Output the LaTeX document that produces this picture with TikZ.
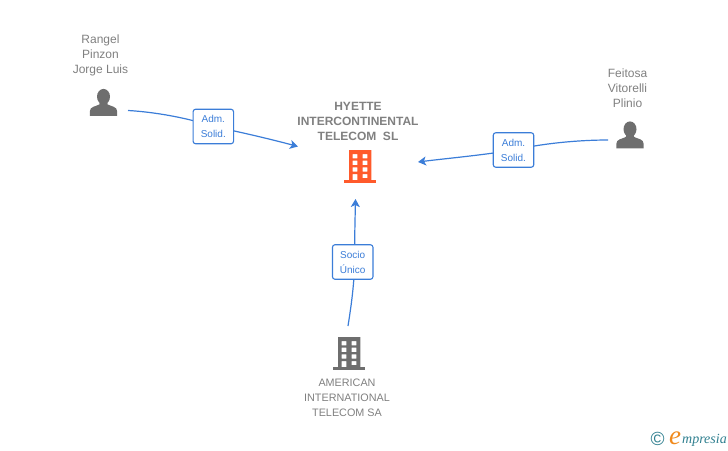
\documentclass[tikz,border=0pt]{standalone}
\usepackage{fontspec}
\setmainfont{Liberation Sans}
\newfontfamily\logofont{Liberation Serif}
\usetikzlibrary{arrows.meta,backgrounds}
\definecolor{linkblue}{HTML}{3B7DD8}
\definecolor{labelgrey}{HTML}{808080}
\definecolor{icongrey}{HTML}{6E6E6E}
\definecolor{hotorange}{HTML}{FF5A2B}
\definecolor{logoteal}{HTML}{2F7F8F}
\definecolor{logoorange}{HTML}{F08A1D}
\tikzset{
  x=1pt,y=-1pt,
  link/.style={draw=linkblue,line width=1.2pt},
  linkarrow/.style={link,-{Stealth[length=8pt,width=9pt,inset=2pt]}},
  rolebox/.style={draw=linkblue,line width=1.1pt,fill=white,rounded corners=2.5pt,minimum width=40.5pt,minimum height=34.5pt,inner sep=0pt,align=center,font=\fontsize{10}{15}\selectfont,text=linkblue},
  personlabel/.style={align=center,font=\fontsize{12}{15}\selectfont,text=labelgrey,inner sep=0pt},
  companylabel/.style={align=center,font=\fontsize{10.8}{15}\selectfont,text=labelgrey,inner sep=0pt},
  mainlabel/.style={align=center,font=\fontsize{12}{15}\selectfont\bfseries,text=labelgrey,inner sep=0pt},
  iconanchor/.style={inner sep=0pt,minimum width=32pt,minimum height=33pt},
  pics/personicon/.style={code={
    \fill[icongrey] (0,-5.8) ellipse[x radius=6.5,y radius=7.8];
    \fill[icongrey] (-3.5,-2) -- (3.5,-2) -- (4.2,2) .. controls (8,4) and (13.7,4) .. (13.7,9) -- (13.7,13.3) -- (-13.7,13.3) -- (-13.7,9) .. controls (-13.7,4) and (-8,4) .. (-4.2,2) -- cycle;
  }},
  pics/buildingicon/.style={code={
    \fill[#1,even odd rule] (-11,-16.5) rectangle (11.3,13.5)
      (-7.3,-12.5) rectangle (-2.7,-8.2) (2.7,-12.5) rectangle (7.3,-8.2)
      (-7.3,-5.8) rectangle (-2.7,-1.5) (2.7,-5.8) rectangle (7.3,-1.5)
      (-7.3,0.8) rectangle (-2.7,5.2) (2.7,0.8) rectangle (7.3,5.2)
      (-7.3,7.5) rectangle (-2.7,13.5) (2.7,7.5) rectangle (7.3,11.5);
    \fill[#1] (-16,13.5) rectangle (16,16.5);
  }},
}
\begin{document}
\begin{tikzpicture}
\useasboundingbox (0,0) rectangle (728,450);
% icon anchors
\node[iconanchor] (rangel) at (103.5,102.5) {};
\node[iconanchor] (feitosa) at (630,135) {};
\node[iconanchor] (hyette) at (360,166.5) {};
\node[iconanchor] (american) at (349,353.5) {};
\pic at (rangel) {personicon};
\pic at (feitosa) {personicon};
\pic at (hyette) {buildingicon=hotorange};
\pic at (american) {buildingicon=icongrey};
% free connector ends
\coordinate (rangelout) at (128,110.5);
\coordinate (rangelin) at (298,146.5);
\coordinate (feitosaout) at (608,140);
\coordinate (feitosain) at (418,162);
\coordinate (americanout) at (348,326);
\coordinate (americanin) at (355.5,199);
% role boxes
\node[rolebox] (adm1) at (213.3,126.5) {Adm.\\Solid.};
\node[rolebox] (adm2) at (513.5,150) {Adm.\\Solid.};
\node[rolebox] (socio) at (352.7,262) {Socio\\Único};
% connectors
\begin{scope}[on background layer]
\draw[link] (rangelout) .. controls (155,112) and (188,118) .. (adm1.center);
\draw[linkarrow] (adm1.center) .. controls (240,132) and (270,139) .. (rangelin);
\draw[link] (feitosaout) .. controls (580,140) and (545,143) .. (adm2.center);
\draw[linkarrow] (adm2.center) .. controls (480,155.5) and (450,158) .. (feitosain);
\draw[link] (americanout) .. controls (350.5,310) and (354,288) .. ([xshift=2pt]socio.center);
\draw[linkarrow] ([xshift=2pt]socio.center) .. controls (354.5,240) and (355,222) .. (americanin);
\end{scope}
% labels
\node[personlabel] (rangeltext) at (100.5,55.7) {Rangel\\Pinzon\\Jorge Luis};
\node[personlabel] (feitosatext) at (627.5,88) {Feitosa\\Vitorelli\\Plinio};
\node[mainlabel] (hyettetext) at (358,121) {HYETTE\\INTERCONTINENTAL\\TELECOM\ \ SL};
\node[companylabel] (americantext) at (347,397.7) {AMERICAN\\INTERNATIONAL\\TELECOM SA};
% logo
\node[inner sep=0pt,text=logoteal,font=\fontsize{19}{19}\selectfont] (copyr) at (657.5,439) {©};
\node[inner sep=0pt,anchor=base west,text=logoorange,font=\logofont\itshape\fontsize{27}{27}\selectfont] (logoe) at (669,444) {e};
\node[inner sep=0pt,anchor=base west,text=logoteal,font=\logofont\itshape\fontsize{14}{14}\selectfont] (logorest) at (682,443.5) {mpresia};
\end{tikzpicture}
\end{document}
